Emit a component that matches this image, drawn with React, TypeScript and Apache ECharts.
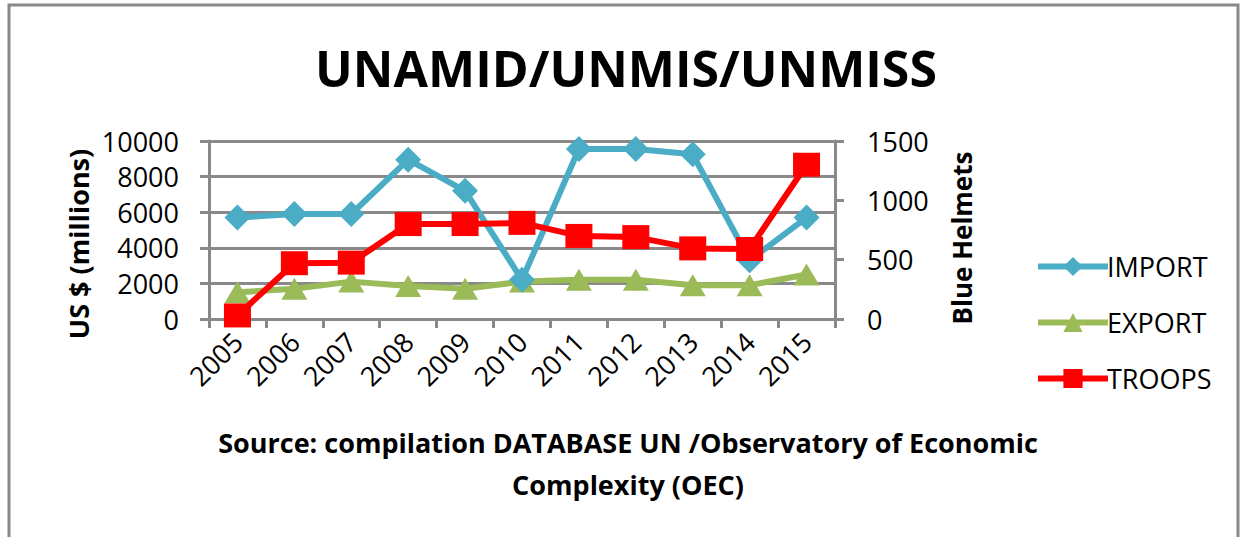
import React, { useEffect, useRef } from "react";
import * as echarts from "echarts";

const years = ["2005", "2006", "2007", "2008", "2009", "2010", "2011", "2012", "2013", "2014", "2015"];
const importValues = [5700, 5900, 5900, 8950, 7200, 2200, 9550, 9550, 9250, 3300, 5700];
const exportValues = [1500, 1700, 2100, 1850, 1700, 2100, 2200, 2200, 1900, 1900, 2500];
const troopsValues = [30, 470, 475, 800, 800, 810, 700, 690, 595, 590, 1300];
const leftTicks = [0, 2000, 4000, 6000, 8000, 10000];
const rightTicks = [0, 500, 1000, 1500];

const FONT = "'Open Sans', 'Noto Sans', sans-serif";
const GRAY = "#898989";

export default function App() {
  const ref = useRef<HTMLDivElement>(null);
  useEffect(() => {
    if (!ref.current) return;
    const chart = echarts.init(ref.current, undefined, { renderer: "svg" });
    chart.setOption({
      animation: false,
      backgroundColor: "#ffffff",
      textStyle: { fontFamily: FONT },
      grid: { left: 209, right: 406, top: 141, bottom: 218, containLabel: false },
      xAxis: {
        type: "category",
        data: years,
        boundaryGap: true,
        axisLine: { lineStyle: { color: GRAY, width: 3 } },
        axisTick: { show: true, length: 9, alignWithLabel: false, lineStyle: { color: GRAY, width: 3 } },
        axisLabel: { rotate: 45, margin: 18, color: "#000", fontSize: 27, fontFamily: FONT, interval: 0 },
        splitLine: { show: false },
      },
      yAxis: [
        {
          type: "value",
          min: leftTicks[0],
          max: leftTicks[leftTicks.length - 1],
          interval: 2000,
          axisLine: { show: true, lineStyle: { color: GRAY, width: 3 } },
          axisTick: { show: true, length: 9, lineStyle: { color: GRAY, width: 3 } },
          axisLabel: { margin: 30, color: "#000", fontSize: 27, fontFamily: FONT, formatter: (v: number) => String(v) },
          splitLine: { show: true, lineStyle: { color: GRAY, width: 3 } },
        },
        {
          type: "value",
          position: "right",
          min: rightTicks[0],
          max: rightTicks[rightTicks.length - 1],
          interval: 500,
          axisLine: { show: true, lineStyle: { color: GRAY, width: 3 } },
          axisTick: { show: true, length: 9, lineStyle: { color: GRAY, width: 3 } },
          axisLabel: { margin: 32, color: "#000", fontSize: 27, fontFamily: FONT, formatter: (v: number) => String(v) },
          splitLine: { show: false },
        },
      ],
      legend: {
        orient: "vertical",
        left: 1030,
        top: 248,
        itemWidth: 70,
        itemHeight: 24,
        itemGap: 29,
        lineStyle: { width: 6 },
        textStyle: { color: "#000", fontSize: 27, fontFamily: FONT, padding: [0, 0, 0, -6] },
        data: ["IMPORT", "EXPORT", "TROOPS"],
      },
      series: [
        {
          name: "IMPORT",
          type: "line",
          data: importValues,
          yAxisIndex: 0,
          symbol: "diamond",
          symbolSize: [26, 26],
          itemStyle: { color: "#4BACC6" },
          lineStyle: { color: "#4BACC6", width: 6 },
          z: 3,
        },
        {
          name: "EXPORT",
          type: "line",
          data: exportValues,
          yAxisIndex: 0,
          symbol: "triangle",
          symbolSize: [26, 22],
          itemStyle: { color: "#9BBB59" },
          lineStyle: { color: "#9BBB59", width: 6 },
          z: 2,
        },
        {
          name: "TROOPS",
          type: "line",
          data: troopsValues,
          yAxisIndex: 1,
          symbol: "rect",
          symbolSize: [27, 24],
          itemStyle: { color: "#FF0000" },
          lineStyle: { color: "#FF0000", width: 6 },
          z: 4,
        },
      ],
      graphic: [
        {
          type: "rect",
          shape: { x: 9, y: 5, width: 1229, height: 600 },
          style: { fill: "none", stroke: GRAY, lineWidth: 3 },
          silent: true,
        },
        {
          type: "text",
          x: 626,
          y: 68,
          style: {
            text: "UNAMID/UNMIS/UNMISS",
            fontSize: 50,
            fontWeight: "bold",
            fontFamily: FONT,
            fill: "#000",
            align: "center",
            verticalAlign: "middle",
          },
        },
        {
          type: "text",
          x: 78,
          y: 244,
          rotation: Math.PI / 2,
          style: {
            text: "US $ (millions)",
            fontSize: 27,
            fontWeight: "bold",
            fontFamily: FONT,
            fill: "#000",
            align: "center",
            verticalAlign: "middle",
          },
        },
        {
          type: "text",
          x: 962,
          y: 238,
          rotation: Math.PI / 2,
          style: {
            text: "Blue Helmets",
            fontSize: 26,
            fontWeight: "bold",
            fontFamily: FONT,
            fill: "#000",
            align: "center",
            verticalAlign: "middle",
          },
        },
        {
          type: "text",
          x: 628,
          y: 442,
          style: {
            text: "Source: compilation DATABASE UN /Observatory of Economic",
            fontSize: 27,
            fontWeight: "bold",
            fontFamily: FONT,
            fill: "#000",
            align: "center",
            verticalAlign: "middle",
          },
        },
        {
          type: "text",
          x: 628,
          y: 484,
          style: {
            text: "Complexity (OEC)",
            fontSize: 27,
            fontWeight: "bold",
            fontFamily: FONT,
            fill: "#000",
            align: "center",
            verticalAlign: "middle",
          },
        },
      ],
    });
    return () => chart.dispose();
  }, []);
  return (
    <div
      ref={ref}
      style={{ position: "absolute", left: 0, top: 0, width: 1241, height: 537, background: "#fff" }}
    />
  );
}
